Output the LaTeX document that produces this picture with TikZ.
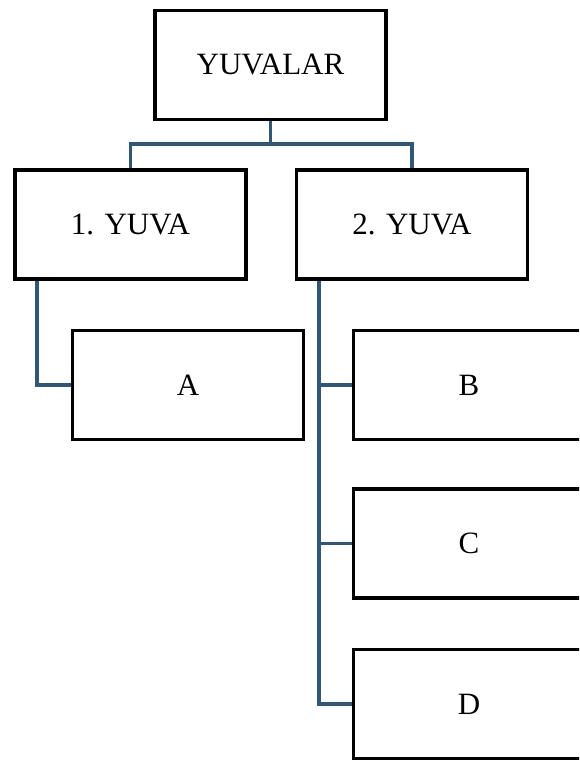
\documentclass[tikz,border=0pt]{standalone}
\usepackage{fontspec}
\setmainfont{Liberation Serif}
\definecolor{connblue}{RGB}{49,87,118}
\begin{document}
\begin{tikzpicture}[x=1pt,y=-1pt,
  box/.style={draw=black,line width=3.3pt,fill=white,rectangle,inner sep=0pt,
    minimum width=231pt,minimum height=109pt,
    font=\fontsize{31}{36}\selectfont},
  conn/.style={draw=connblue,line width=3.2pt}]
\useasboundingbox (0,0) rectangle (579,760);
\clip (0,0) rectangle (579,760);
\coordinate (bus) at (270.5,144);
\coordinate (c1) at (37,280);
\coordinate (c2) at (319,280);
\draw[conn] (270.5,120) -- (bus);
\draw[conn] (130.5,169) |- (bus) -| (412,169);
\draw[conn] (c1) |- (72,385);
\draw[conn] (c2) |- (353,704);
\draw[conn] (319,385) -- (353,385);
\draw[conn] (319,543.5) -- (353,543.5);
\node[box] (top) at (270.5,65) {YUVALAR};
\node[box] (y1) at (130.5,224.5) {1. YUVA};
\node[box] (y2) at (412,224.5) {2. YUVA};
\node[box] (A) at (188,385) {A};
\node[box] (B) at (469,385) {B};
\node[box] (C) at (469,543.5) {C};
\node[box] (D) at (469,704) {D};
\end{tikzpicture}
\end{document}
